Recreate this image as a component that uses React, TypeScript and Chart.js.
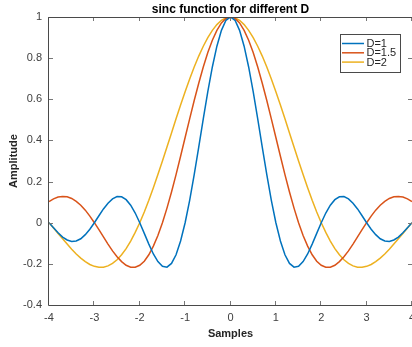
import React, { useEffect, useRef } from "react";
import { Chart, registerables } from "chart.js";

Chart.register(...registerables);

const samples = [
  -4, -3.9, -3.8, -3.7, -3.6, -3.5, -3.4, -3.3, -3.2, -3.1,
  -3, -2.9, -2.8, -2.7, -2.6, -2.5, -2.4, -2.3, -2.2, -2.1,
  -2, -1.9, -1.8, -1.7, -1.6, -1.5, -1.4, -1.3, -1.2, -1.1,
  -1, -0.9, -0.8, -0.7, -0.6, -0.5, -0.4, -0.3, -0.2, -0.1,
  0,
  0.1, 0.2, 0.3, 0.4, 0.5, 0.6, 0.7, 0.8, 0.9, 1,
  1.1, 1.2, 1.3, 1.4, 1.5, 1.6, 1.7, 1.8, 1.9, 2,
  2.1, 2.2, 2.3, 2.4, 2.5, 2.6, 2.7, 2.8, 2.9, 3,
  3.1, 3.2, 3.3, 3.4, 3.5, 3.6, 3.7, 3.8, 3.9, 4,
];

const sincD1 = [
  0, -0.025, -0.049, -0.070, -0.084, -0.091, -0.089, -0.078, -0.058, -0.032,
  0, 0.034, 0.067, 0.095, 0.116, 0.127, 0.126, 0.112, 0.085, 0.047,
  0, -0.052, -0.104, -0.152, -0.189, -0.212, -0.216, -0.198, -0.156, -0.089,
  0, 0.109, 0.234, 0.368, 0.505, 0.637, 0.757, 0.858, 0.935, 0.984,
  1,
  0.984, 0.935, 0.858, 0.757, 0.637, 0.505, 0.368, 0.234, 0.109, 0,
  -0.089, -0.156, -0.198, -0.216, -0.212, -0.189, -0.152, -0.104, -0.052, 0,
  0.047, 0.085, 0.112, 0.126, 0.127, 0.116, 0.095, 0.067, 0.034, 0,
  -0.032, -0.058, -0.078, -0.089, -0.091, -0.084, -0.070, -0.049, -0.025, 0,
];

const sincD15 = [
  0.103, 0.116, 0.125, 0.128, 0.126, 0.118, 0.104, 0.085, 0.061, 0.032,
  0, -0.034, -0.069, -0.104, -0.137, -0.165, -0.189, -0.207, -0.216, -0.216,
  -0.207, -0.187, -0.156, -0.114, -0.062, 0, 0.071, 0.149, 0.234, 0.323,
  0.414, 0.505, 0.594, 0.678, 0.757, 0.827, 0.887, 0.935, 0.971, 0.993,
  1,
  0.993, 0.971, 0.935, 0.887, 0.827, 0.757, 0.678, 0.594, 0.505, 0.414,
  0.323, 0.234, 0.149, 0.071, 0, -0.062, -0.114, -0.156, -0.187, -0.207,
  -0.216, -0.216, -0.207, -0.189, -0.165, -0.137, -0.104, -0.069, -0.034, 0,
  0.032, 0.061, 0.085, 0.104, 0.118, 0.126, 0.128, 0.125, 0.116, 0.103,
];

const sincD2 = [
  0, -0.026, -0.052, -0.078, -0.104, -0.129, -0.152, -0.172, -0.189, -0.203,
  -0.212, -0.217, -0.216, -0.210, -0.198, -0.180, -0.156, -0.126, -0.089, -0.047,
  0, 0.052, 0.109, 0.170, 0.234, 0.300, 0.368, 0.436, 0.505, 0.572,
  0.637, 0.699, 0.757, 0.810, 0.858, 0.900, 0.935, 0.963, 0.984, 0.996,
  1,
  0.996, 0.984, 0.963, 0.935, 0.900, 0.858, 0.810, 0.757, 0.699, 0.637,
  0.572, 0.505, 0.436, 0.368, 0.300, 0.234, 0.170, 0.109, 0.052, 0,
  -0.047, -0.089, -0.126, -0.156, -0.180, -0.198, -0.210, -0.216, -0.217, -0.212,
  -0.203, -0.189, -0.172, -0.152, -0.129, -0.104, -0.078, -0.052, -0.026, 0,
];

const seriesLabels = ["D=1", "D=1.5", "D=2"];
const seriesColors = ["#0072BD", "#D95319", "#EDB120"];
const xTicks = [-4, -3, -2, -1, 0, 1, 2, 3, 4];
const yTicks = [-0.4, -0.2, 0, 0.2, 0.4, 0.6, 0.8, 1];
const titleText = "sinc function for different D";
const xTitle = "Samples";
const yTitle = "Amplitude";

const FONT = "'Liberation Sans', Arial, Helvetica, sans-serif";
const AXIS_COLOR = "#4a4a4a";
const TEXT_COLOR = "#262626";

const decorPlugin = {
  id: "matlabDecor",
  afterDatasetsDraw(chart: any) {
    const { ctx, chartArea: a, scales } = chart;
    ctx.save();
    // inward tick marks on all four sides
    ctx.strokeStyle = "#777777";
    ctx.lineWidth = 1;
    const tl = 4;
    ctx.beginPath();
    xTicks.forEach((v) => {
      const px = Math.round(scales.x.getPixelForValue(v)) - 0.5;
      ctx.moveTo(px, a.bottom);
      ctx.lineTo(px, a.bottom - tl);
      ctx.moveTo(px, a.top);
      ctx.lineTo(px, a.top + tl);
    });
    yTicks.forEach((v) => {
      const py = Math.round(scales.y.getPixelForValue(v)) + 0.5;
      ctx.moveTo(a.left, py);
      ctx.lineTo(a.left + tl, py);
      ctx.moveTo(a.right, py);
      ctx.lineTo(a.right - tl, py);
    });
    ctx.stroke();
    // axes box
    ctx.strokeStyle = AXIS_COLOR;
    ctx.beginPath();
    ctx.moveTo(a.left - 0.5, a.bottom + 0.5);
    ctx.lineTo(a.left - 0.5, a.top + 0.5);
    ctx.lineTo(a.right + 0.5, a.top + 0.5);
    ctx.moveTo(a.left - 0.5, a.bottom + 0.5);
    ctx.lineTo(a.right + 0.5, a.bottom + 0.5);
    ctx.lineTo(a.right + 0.5, a.top + 0.5);
    ctx.stroke();

    // title
    ctx.fillStyle = "#000000";
    ctx.font = `bold 12px ${FONT}`;
    ctx.textAlign = "center";
    ctx.textBaseline = "alphabetic";
    ctx.fillText(titleText, (a.left + a.right) / 2, 13);

    // legend
    const bx = 340.5, by = 34.5, bw = 60, bh = 38;
    ctx.fillStyle = "#ffffff";
    ctx.fillRect(bx, by, bw, bh);
    ctx.strokeStyle = AXIS_COLOR;
    ctx.lineWidth = 1;
    ctx.strokeRect(bx, by, bw, bh);
    ctx.font = `11px ${FONT}`;
    ctx.textAlign = "left";
    ctx.textBaseline = "middle";
    chart.data.datasets.forEach((ds: any, i: number) => {
      const y = 43.5 + i * 9.3;
      ctx.strokeStyle = ds.borderColor;
      ctx.lineWidth = 1.5;
      ctx.beginPath();
      ctx.moveTo(342, y);
      ctx.lineTo(364, y);
      ctx.stroke();
      ctx.fillStyle = TEXT_COLOR;
      ctx.fillText(ds.label, 366.5, y + 0.5);
    });
    ctx.restore();
  },
};

const zeroPad = (s: any) => {
  s.paddingLeft = 0;
  s.paddingRight = 0;
  s.paddingTop = 0;
  s.paddingBottom = 0;
};

export default function App() {
  const ref = useRef<HTMLCanvasElement | null>(null);
  useEffect(() => {
    document.body.style.margin = "0";
    const canvas = ref.current;
    if (!canvas) return;
    const series = [sincD1, sincD15, sincD2];
    const chart = new Chart(canvas, {
      type: "line",
      data: {
        datasets: series.map((vals, i) => ({
          label: seriesLabels[i],
          data: samples.map((x, j) => ({ x, y: vals[j] })),
          borderColor: seriesColors[i],
          backgroundColor: seriesColors[i],
          borderWidth: 1.5,
          pointRadius: 0,
          tension: 0,
          fill: false,
        })),
      },
      options: {
        responsive: false,
        animation: false,
        devicePixelRatio: 1,
        layout: { autoPadding: false, padding: { top: 17, left: 0, right: 0, bottom: 0 } },
        plugins: {
          legend: { display: false },
          title: { display: false },
          tooltip: { enabled: false },
        },
        scales: {
          x: {
            type: "linear",
            min: -4,
            max: 4,
            grid: { display: false, drawTicks: false },
            border: { display: false },
            afterBuildTicks: (s: any) => {
              s.ticks = xTicks.map((v) => ({ value: v }));
            },
            afterFit: (s: any) => {
              s.height = 42;
              zeroPad(s);
            },
            ticks: {
              font: { family: FONT, size: 11 },
              color: "#404040",
              padding: 6,
              maxRotation: 0,
              autoSkip: false,
              callback: (v: any) => String(v),
            },
            title: {
              display: true,
              text: xTitle,
              color: TEXT_COLOR,
              font: { family: FONT, size: 11, weight: "bold" },
              padding: { top: 0, bottom: 6 },
            },
          },
          y: {
            type: "linear",
            min: -0.4,
            max: 1,
            grid: { display: false, drawTicks: false },
            border: { display: false },
            afterBuildTicks: (s: any) => {
              s.ticks = yTicks.map((v) => ({ value: v }));
            },
            afterFit: (s: any) => {
              s.width = 49;
              zeroPad(s);
            },
            ticks: {
              font: { family: FONT, size: 11 },
              color: "#404040",
              padding: 7,
              autoSkip: false,
              callback: (v: any) => String(Math.round(Number(v) * 10) / 10),
            },
            title: {
              display: true,
              text: yTitle,
              color: TEXT_COLOR,
              font: { family: FONT, size: 11, weight: "bold" },
              padding: { top: 7, bottom: 0 },
            },
          },
        },
      },
      plugins: [decorPlugin],
    } as any);
    return () => chart.destroy();
  }, []);
  return (
    <div style={{ width: 412, height: 347 }}>
      <canvas ref={ref} width={412} height={347} style={{ display: "block" }} />
    </div>
  );
}
